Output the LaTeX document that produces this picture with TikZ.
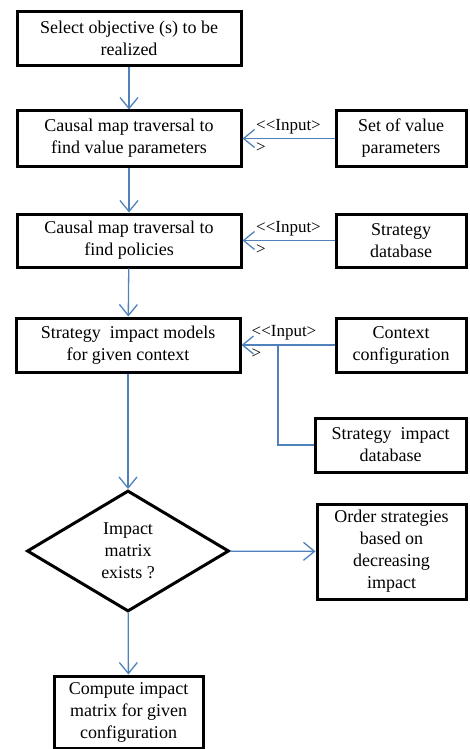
\documentclass[tikz,border=0pt]{standalone}
\usepackage{fontspec}
\setmainfont{Liberation Serif}
\usetikzlibrary{arrows.meta,shapes.geometric}
\definecolor{flowblue}{RGB}{79,129,189}

\begin{document}
\begin{tikzpicture}[x=1pt,y=-1pt,->,>={Straight Barb[length=11pt,width=18pt]},
    flow/.style={draw=flowblue,line width=1.3pt},
    stepbox/.style={draw=black,line width=3pt,align=center,inner sep=2pt,
        font=\rmfamily\fontsize{18}{22}\selectfont},
    decide/.style={stepbox,shape=diamond,inner sep=0pt,aspect=1.67},
    tag/.style={align=left,inner sep=0pt,font=\rmfamily\fontsize{17}{22}\selectfont}]
                \useasboundingbox (0,0) rectangle (469,749);
                \node[stepbox,minimum width=224,minimum height=54](select)at(129, 38.5){Select objective (s) to be\\realized};
                \node[stepbox,minimum width=224,minimum height=55](valtrav)at(129, 138.5){Causal map traversal to\\find value parameters};
                \node[stepbox,minimum width=130,minimum height=55](valset)at(401, 138.5){Set of value\\parameters};
                \node[stepbox,minimum width=224,minimum height=53](poltrav)at(129, 240.5){Causal map traversal to\\find policies};
                \node[stepbox,minimum width=130,minimum height=53](stratdb)at(401, 240.5){Strategy\\database};
                \node[stepbox,minimum width=224,minimum height=54](models)at(128, 345){Strategy\ \ impact models\\for given context};
                \node[stepbox,minimum width=130,minimum height=54](context)at(401, 345){Context\\configuration};
                \node[stepbox,minimum width=151,minimum height=54](impactdb)at(390.5, 445){Strategy\ \ impact\\database};
                \node[decide,minimum width=202,minimum height=121](exists)at(128, 551){Impact\\matrix\\exists ?};
                \node[stepbox,minimum width=149,minimum height=95](order)at(391.5, 551.5){Order strategies\\based on\\decreasing\\impact};
                \node[stepbox,minimum width=149,minimum height=72](compute)at(128.5, 712){Compute impact\\matrix for given\\configuration};
                \coordinate(join)at(278, 345);

                \path[flow](select) edge (valtrav)
                (valtrav) edge (poltrav)
                (poltrav) edge (models)
                (models) edge (exists)
                (exists) edge (order)
                (exists) edge (compute);
                \path[flow]
                (valset) edge node[tag,yshift=3]{<{}<Input>\\>} (valtrav)
                (stratdb) edge node[tag,yshift=3]{<{}<Input>\\>} (poltrav)
                (context) edge node[tag,yshift=3,xshift=-4]{<{}<Input>\\>} (models);
                \draw[flow,-](impactdb.west) -| (join);
            \end{tikzpicture}
\end{document}
